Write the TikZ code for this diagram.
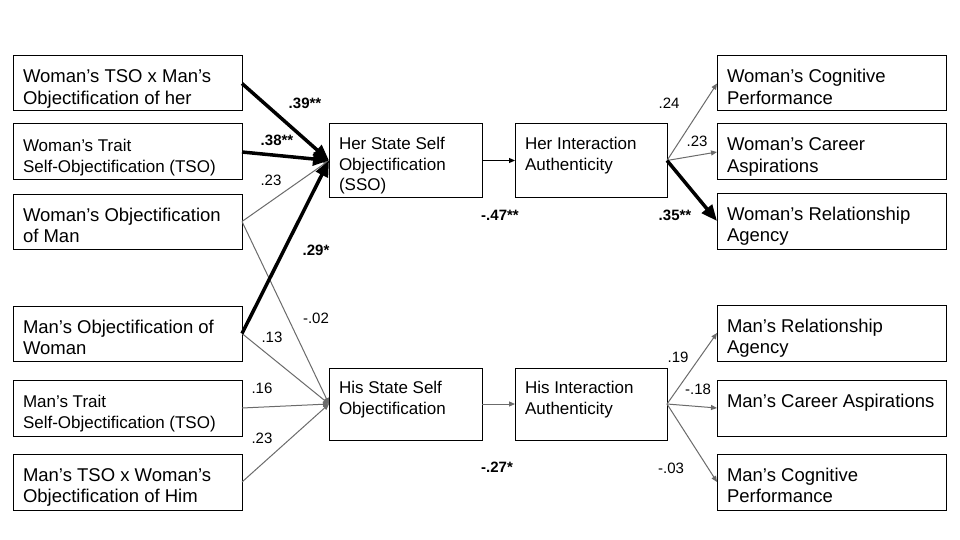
\documentclass[tikz,border=0pt]{standalone}
\usepackage{fontspec}
\setmainfont{Liberation Sans}
\usetikzlibrary{arrows.meta}
\definecolor{linegrey}{HTML}{6B6B6B}
\newcommand{\boxtxt}[6]{\parbox[c][#1pt][t]{#2pt}{\fontsize{#3}{#4}\selectfont\raggedright\leftskip=10pt\relax\parindent=0pt\rule{0pt}{#5pt}#6}}
\tikzset{
  bx/.style={draw, line width=1pt, inner sep=0pt, outer sep=0pt, anchor=north west},
  weak/.style={draw=linegrey, line width=1pt, -{Triangle[length=6pt,width=5pt]}},
  weakblack/.style={draw=black, line width=1pt, -{Triangle[length=6pt,width=5pt]}},
  strong/.style={draw=black, line width=3.5pt, -{Triangle[length=16pt,width=13pt]}},
  coef/.style={inner sep=0pt, font=\fontsize{15}{18}\selectfont},
  coefb/.style={inner sep=0pt, font=\fontsize{15}{18}\selectfont\bfseries}
}
\begin{document}
\begin{tikzpicture}[x=1pt,y=-1pt]
\useasboundingbox[fill=white] (0,0) rectangle (960,540);
% left column
\node[bx] (L1) at (13,56) {\boxtxt{55}{229}{18.5}{21.3}{27}{Woman’s TSO x Man’s\\Objectification of her}};
\node[bx] (L2) at (13,124) {\boxtxt{56}{229}{17}{21}{27.5}{Woman’s Trait\\Self-Objectification (TSO)}};
\node[bx] (L3) at (13,194) {\boxtxt{55}{229}{18.5}{21.3}{27}{Woman’s Objectification\\of Man}};
\node[bx] (L4) at (13,306) {\boxtxt{55}{229}{18.5}{21.3}{27}{Man’s Objectification of\\Woman}};
\node[bx] (L5) at (13,380) {\boxtxt{56}{229}{17}{21}{27.5}{Man’s Trait\\Self-Objectification (TSO)}};
\node[bx] (L6) at (13,454) {\boxtxt{56}{229}{18.5}{21.3}{27}{Man’s TSO x Woman’s\\Objectification of Him}};
% centre
\node[bx] (HerS) at (329,124) {\boxtxt{73}{153}{17}{20.7}{25.5}{Her State Self\\Objectification\\(SSO)}};
\node[bx] (HerI) at (515,124) {\boxtxt{73}{152}{17}{20.7}{25.5}{Her Interaction\\Authenticity}};
\node[bx] (HisS) at (329,368) {\boxtxt{72}{153}{17}{20.7}{25.5}{His State Self\\Objectification}};
\node[bx] (HisI) at (515,368) {\boxtxt{72}{152}{17}{20.7}{25.5}{His Interaction\\Authenticity}};
% right column
\node[bx] (R1) at (717,56) {\boxtxt{55}{229}{18.5}{21.3}{27}{Woman’s Cognitive\\Performance}};
\node[bx] (R2) at (717,124) {\boxtxt{56}{229}{18.5}{21.3}{27}{Woman’s Career\\Aspirations}};
\node[bx] (R3) at (717,193) {\boxtxt{56}{229}{18.5}{21.3}{27}{Woman’s Relationship\\Agency}};
\node[bx] (R4) at (717,305) {\boxtxt{56}{229}{18.5}{21.3}{27}{Man’s Relationship\\Agency}};
\node[bx] (R5) at (717,380) {\boxtxt{56}{229}{18.5}{21.3}{27}{Man’s Career Aspirations}};
\node[bx] (R6) at (717,454) {\boxtxt{56}{229}{18.5}{21.3}{27}{Man’s Cognitive\\Performance}};
% connectors into Her SSO
\draw[weak] (L3.east) -- (HerS.west);
\draw[weak] (L3.east) -- (HisS.west);
\draw[weak] (L4.east) -- (HisS.west);
\draw[weak] (L5.east) -- (HisS.west);
\draw[weak] (L6.east) -- (HisS.west);
\draw[strong] (L1.east) -- (HerS.west);
\draw[strong] (L2.east) -- (HerS.west);
\draw[strong] (L4.east) -- (HerS.west);
% middle
\draw[weakblack] (HerS.east) -- (HerI.west);
\draw[weak] (HisS.east) -- (HisI.west);
% outcomes
\draw[weak] (HerI.east) -- (R1.west);
\draw[weak] (HerI.east) -- (R2.west);
\draw[strong] (HerI.east) -- (R3.west);
\draw[weak] (HisI.east) -- (R4.west);
\draw[weak] (HisI.east) -- (R5.west);
\draw[weak] (HisI.east) -- (R6.west);
% coefficients
\node[coefb] (c1) at (305,103) {.39**};
\node[coefb] (c2) at (277,140) {.38**};
\node[coef] (c3) at (271,180) {.23};
\node[coefb] (c4) at (316,250) {.29*};
\node[coef] (c5) at (316,318) {-.02};
\node[coef] (c6) at (272,337) {.13};
\node[coef] (c7) at (262,388) {.16};
\node[coef] (c8) at (262,438) {.23};
\node[coefb] (c9) at (500,215) {-.47**};
\node[coefb] (c10) at (497,467) {-.27*};
\node[coef] (c11) at (669,103) {.24};
\node[coef] (c12) at (697,141) {.23};
\node[coefb] (c13) at (675,215) {.35**};
\node[coef] (c14) at (678,357) {.19};
\node[coef] (c15) at (698,389) {-.18};
\node[coef] (c16) at (671,468) {-.03};
\end{tikzpicture}
\end{document}
